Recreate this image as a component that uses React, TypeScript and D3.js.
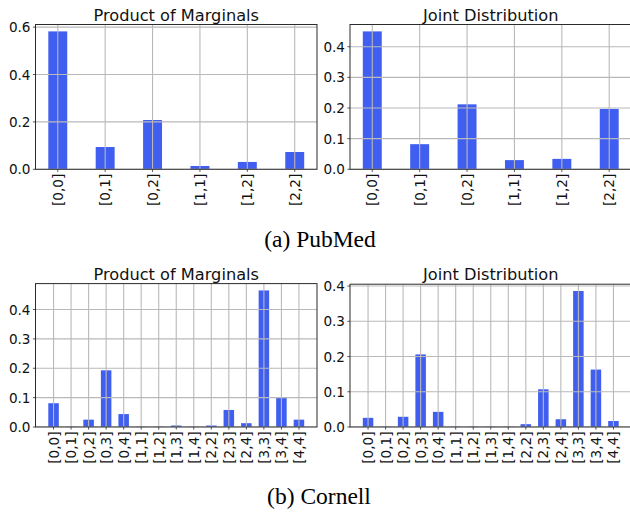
import React from "react";
import * as d3 from "d3";

const PUBMED_CATEGORIES = ["[0,0]", "[0,1]", "[0,2]", "[1,1]", "[1,2]", "[2,2]"];
const PUBMED_MARGINALS = [0.582, 0.094, 0.208, 0.014, 0.031, 0.073];
const PUBMED_JOINT = [0.45, 0.082, 0.212, 0.03, 0.034, 0.197];

const CORNELL_CATEGORIES = [
  "[0,0]", "[0,1]", "[0,2]", "[0,3]", "[0,4]", "[1,1]", "[1,2]", "[1,3]",
  "[1,4]", "[2,2]", "[2,3]", "[2,4]", "[3,3]", "[3,4]", "[4,4]",
];
const CORNELL_MARGINALS = [
  0.081, 0.001, 0.025, 0.193, 0.044, 0.001, 0.001, 0.005, 0.001, 0.005, 0.058,
  0.013, 0.465, 0.099, 0.025,
];
const CORNELL_JOINT = [
  0.026, 0.001, 0.029, 0.206, 0.043, 0.001, 0.001, 0.001, 0.001, 0.008, 0.107,
  0.022, 0.386, 0.163, 0.017,
];

const TICKS_0_6 = [0, 0.2, 0.4, 0.6];
const TICKS_0_4 = [0, 0.1, 0.2, 0.3, 0.4];

const BAR_COLOR = "#405ff0";
const GRID_COLOR = "#b9b9b9";
const FRAME_COLOR = "#2b2b2b";
const SANS = "DejaVu Sans, sans-serif";
const SERIF = "Liberation Serif, Times New Roman, serif";

type PanelProps = {
  left: number;
  right: number;
  top: number;
  bottom: number;
  title: string;
  categories: string[];
  values: number[];
  ticks: number[];
  barWidth: number;
};

function Panel({ left, right, top, bottom, title, categories, values, ticks, barWidth }: PanelProps) {
  const n = categories.length;
  // matplotlib-style 5% margins around the bar extent
  const span = n - 1 + barWidth;
  const margin = barWidth / 2 + 0.05 * span;
  const x = d3.scaleLinear().domain([-margin, n - 1 + margin]).range([left, right]);
  const yMax = (d3.max(values) ?? 1) * 1.05;
  const y = d3.scaleLinear().domain([0, yMax]).range([bottom, top]);
  const bw = x(barWidth) - x(0);
  const fmt = d3.format(".1f");

  return (
    <g>
      <defs>
        <clipPath id={`clip-${left}-${top}`}>
          <rect x={left} y={top} width={right - left} height={bottom - top} />
        </clipPath>
      </defs>
      <g clipPath={`url(#clip-${left}-${top})`}>
        {values.map((v, i) => (
          <rect
            key={categories[i]}
            x={x(i) - bw / 2}
            y={y(v)}
            width={bw}
            height={y(0) - y(v)}
            fill={BAR_COLOR}
          />
        ))}
        {categories.map((c, i) => (
          <line key={c} x1={x(i)} x2={x(i)} y1={top} y2={bottom} stroke={GRID_COLOR} strokeWidth={1.1} />
        ))}
        {ticks.map((t) => (
          <line key={t} x1={left} x2={right} y1={y(t)} y2={y(t)} stroke={GRID_COLOR} strokeWidth={1.1} />
        ))}
      </g>
      <rect
        x={left}
        y={top}
        width={right - left}
        height={bottom - top}
        fill="none"
        stroke={FRAME_COLOR}
        strokeWidth={1}
      />
      {ticks.map((t) => (
        <g key={t}>
          <line x1={left - 2.6} x2={left} y1={y(t)} y2={y(t)} stroke={FRAME_COLOR} strokeWidth={0.8} />
          <text
            x={left - 5}
            y={y(t)}
            textAnchor="end"
            dominantBaseline="central"
            fontFamily={SANS}
            fontSize={13.6}
            fill="#111"
          >
            {fmt(t)}
          </text>
        </g>
      ))}
      {categories.map((c, i) => (
        <g key={c}>
          <line x1={x(i)} x2={x(i)} y1={bottom} y2={bottom + 2.6} stroke={FRAME_COLOR} strokeWidth={0.8} />
          <text
            transform={`translate(${x(i)},${bottom + 4.5}) rotate(-90)`}
            textAnchor="end"
            dominantBaseline="central"
            fontFamily={SANS}
            fontSize={13.6}
            fill="#111"
          >
            {c}
          </text>
        </g>
      ))}
      <text
        x={(left + right) / 2}
        y={top - 4}
        textAnchor="middle"
        fontFamily={SANS}
        fontSize={16.2}
        fill="#111"
      >
        {title}
      </text>
    </g>
  );
}

export default function App() {
  const leftA = 35.5;
  const rightA = 317;
  const leftB = 350;
  const rightB = 631.5;
  return (
    <svg
      width={630}
      height={513}
      style={{ position: "absolute", left: 0, top: 0, background: "#fff" }}
    >
      <rect x={0} y={0} width={630} height={513} fill="#fff" />
      <Panel
        left={leftA}
        right={rightA}
        top={24.5}
        bottom={169.3}
        title="Product of Marginals"
        categories={PUBMED_CATEGORIES}
        values={PUBMED_MARGINALS}
        ticks={TICKS_0_6}
        barWidth={0.4}
      />
      <Panel
        left={leftB}
        right={rightB}
        top={24.5}
        bottom={169.3}
        title="Joint Distribution"
        categories={PUBMED_CATEGORIES}
        values={PUBMED_JOINT}
        ticks={TICKS_0_4}
        barWidth={0.4}
      />
      <text x={320} y={247} textAnchor="middle" fontFamily={SERIF} fontSize={23.5} fill="#000">
        (a) PubMed
      </text>
      <Panel
        left={leftA}
        right={rightA}
        top={283.6}
        bottom={427}
        title="Product of Marginals"
        categories={CORNELL_CATEGORIES}
        values={CORNELL_MARGINALS}
        ticks={TICKS_0_4}
        barWidth={0.6}
      />
      <Panel
        left={leftB}
        right={rightB}
        top={284.2}
        bottom={427}
        title="Joint Distribution"
        categories={CORNELL_CATEGORIES}
        values={CORNELL_JOINT}
        ticks={TICKS_0_4}
        barWidth={0.6}
      />
      <text x={319} y={504} textAnchor="middle" fontFamily={SERIF} fontSize={23.5} fill="#000">
        (b) Cornell
      </text>
    </svg>
  );
}
